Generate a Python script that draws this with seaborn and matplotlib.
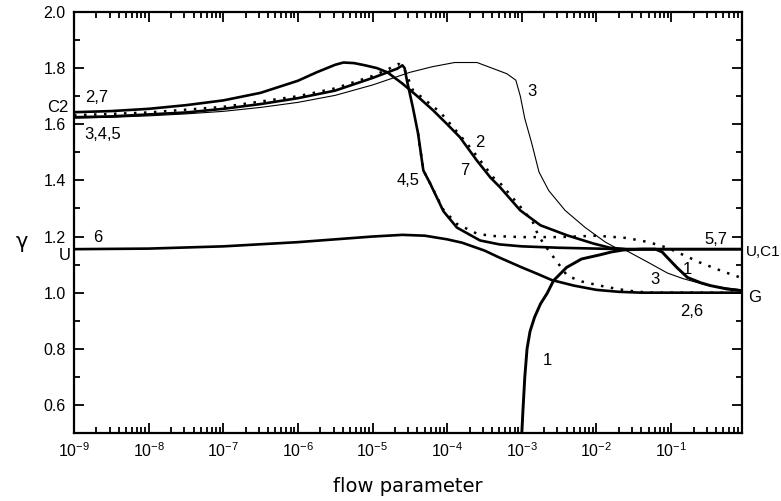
import numpy as np
import pandas as pd
import matplotlib
matplotlib.use("Agg")
import matplotlib.pyplot as plt
import seaborn as sns
from matplotlib.ticker import LogLocator, MultipleLocator, NullFormatter, LogFormatterMathtext, FixedLocator

# ---- data (log10 of flow parameter, gamma) ----
c7_logx = [-9, -8.5, -8, -7.5, -7, -6.5, -6.0, -5.75, -5.5, -5.39, -5.25, -5.1, -4.94, -4.8, -4.6, -4.4, -4.19,
           -4.0, -3.83, -3.6, -3.42, -3.29, -3.02, -2.75, -2.39, -2.04, -1.82, -1.6, -0.05]
c7_y = [1.643, 1.647, 1.655, 1.668, 1.685, 1.712, 1.755, 1.785, 1.812, 1.82, 1.818, 1.81, 1.80, 1.785, 1.745, 1.70, 1.65,
        1.60, 1.554, 1.47, 1.41, 1.375, 1.293, 1.24, 1.204, 1.175, 1.16, 1.155, 1.155]

c45_logx = [-9, -8.5, -8, -7.5, -7, -6.5, -6, -5.5, -5, -4.8, -4.67, -4.6, -4.57, -4.54, -4.46, -4.39, -4.32,
            -4.23, -4.05, -3.87, -3.56, -3.3, -3.0, -2.5, -2.0, -1.6, -0.05]
c45_y = [1.625, 1.628, 1.635, 1.642, 1.655, 1.672, 1.693, 1.72, 1.765, 1.785, 1.798, 1.81, 1.80, 1.757, 1.66,
         1.567, 1.436, 1.39, 1.29, 1.232, 1.186, 1.172, 1.165, 1.16, 1.157, 1.155, 1.155]

c3_logx = [-9, -8.5, -8, -7.5, -7, -6.5, -6, -5.5, -5, -4.5, -4.2, -3.9, -3.6, -3.4, -3.2, -3.08, -3.02, -2.96,
           -2.87, -2.77, -2.64, -2.42, -2.15, -1.88, -1.72, -1.6, -1.28, -1.05, -0.84, -0.5, -0.05]
c3_y = [1.622, 1.625, 1.63, 1.637, 1.646, 1.66, 1.678, 1.703, 1.74, 1.785, 1.805, 1.82, 1.82, 1.80, 1.78,
        1.757, 1.70, 1.62, 1.535, 1.43, 1.364, 1.293, 1.232, 1.18, 1.157, 1.15, 1.104, 1.07, 1.05, 1.025, 1.01]

c6_logx = [-9, -8, -7, -6, -5.5, -5, -4.6, -4.3, -4.0, -3.8, -3.5, -3.3, -3.0, -2.8, -2.6, -2.3, -2.0, -1.7,
           -1.4, -0.05]
c6_y = [1.155, 1.157, 1.165, 1.18, 1.19, 1.2, 1.206, 1.203, 1.19, 1.178, 1.15, 1.125, 1.09, 1.068, 1.045,
        1.025, 1.01, 1.003, 1.0, 1.0]

c1_logx = [-3.0, -2.985, -2.96, -2.93, -2.89, -2.83, -2.75, -2.66, -2.575, -2.4, -2.2, -1.95, -1.8, -1.64,
           -1.4, -1.21, -1.12, -1.05, -0.92, -0.78, -0.6, -0.47, -0.25, -0.05]
c1_y = [0.5, 0.58, 0.70, 0.80, 0.862, 0.912, 0.96, 0.998, 1.043, 1.09, 1.12, 1.135, 1.145, 1.152,
        1.155, 1.155, 1.145, 1.125, 1.089, 1.054, 1.035, 1.025, 1.013, 1.007]

c2_logx = [-9, -8, -7, -6, -5.5, -5, -4.8, -4.65, -4.58, -4.46, -4.09, -3.73, -3.38, -3.29, -3.0, -2.85,
           -2.79, -2.71, -2.59, -2.39, -2.2, -1.95, -1.7, -1.5, -1.3, -0.05]
c2_y = [1.632, 1.642, 1.662, 1.70, 1.728, 1.772, 1.795, 1.815, 1.80, 1.722, 1.642, 1.53, 1.41, 1.39, 1.30,
        1.25, 1.21, 1.175, 1.132, 1.06, 1.04, 1.025, 1.012, 1.005, 1.0, 1.0]

c4_logx = [-4.39, -4.32, -4.23, -4.05, -3.87, -3.6, -3.4, -3.0, -2.5, -2.0, -1.6, -1.3, -1.05, -0.8, -0.61,
           -0.3, -0.05]
c4_y = [1.567, 1.436, 1.39, 1.295, 1.245, 1.21, 1.202, 1.198, 1.198, 1.203, 1.195, 1.18, 1.16, 1.13, 1.107,
        1.075, 1.052]

x_major_exp = [-9, -8, -7, -6, -5, -4, -3, -2, -1]

curves = [
    ("7", c7_logx, c7_y, "-", 1.9),
    ("4,5", c45_logx, c45_y, "-", 1.9),
    ("3", c3_logx, c3_y, "-", 0.8),
    ("6", c6_logx, c6_y, "-", 1.9),
    ("1", c1_logx, c1_y, "-", 2.1),
    ("2", c2_logx, c2_y, (0, (1, 3)), 1.8),
    ("4", c4_logx, c4_y, (0, (1, 3)), 1.8),
]

sns.set_theme(style="ticks")
plt.rcParams['font.family'] = ['Liberation Sans', 'DejaVu Sans']
plt.rcParams['mathtext.fontset'] = 'custom'
plt.rcParams['mathtext.rm'] = 'Liberation Sans'
plt.rcParams['mathtext.it'] = 'Liberation Sans:italic'
plt.rcParams['text.color'] = 'black'

fig = plt.figure(figsize=(7.81, 5.01), dpi=100)
ax = fig.add_axes([74 / 781, 1 - 433 / 501, (742 - 74) / 781, (433 - 12) / 501])

for name, lx, ly, ls, lw in curves:
    df = pd.DataFrame({"x": np.power(10.0, lx), "y": ly})
    sns.lineplot(data=df, x="x", y="y", ax=ax, color="black", linestyle=ls, linewidth=lw,
                 estimator=None, sort=False, legend=False)

ax.set_xscale("log")
ax.set_xlim(1e-9, 10 ** -0.05)
ax.set_ylim(0.5, 2.0)
ax.xaxis.set_major_locator(FixedLocator([10.0 ** e for e in x_major_exp]))
ax.xaxis.set_minor_locator(LogLocator(base=10, subs=np.arange(2, 10), numticks=200))
ax.xaxis.set_major_formatter(LogFormatterMathtext())
ax.xaxis.set_minor_formatter(NullFormatter())
ax.yaxis.set_major_locator(MultipleLocator(0.2))
ax.yaxis.set_minor_locator(MultipleLocator(0.1))
ax.yaxis.set_major_formatter(matplotlib.ticker.FormatStrFormatter("%.1f"))

ax.tick_params(which="both", direction="in", top=True, right=True, colors="black",
               labelsize=11.5, width=1.3)
ax.tick_params(which="major", length=7, pad=6)
ax.tick_params(which="minor", length=4)
for s in ax.spines.values():
    s.set_linewidth(1.6)
    s.set_color("black")

ax.set_xlabel("flow parameter", fontsize=14, family="DejaVu Sans", labelpad=12, color="black")
ax.set_ylabel("")
fig.text(22 / 781, 1 - 242 / 501, "γ", fontsize=15, ha="center", va="center", family="DejaVu Sans",
         color="black")


def px(xp, yp):
    return 10 ** (-9 + (xp - 74) / 74.6), 2.0 - (yp - 12) / 280.0


labels = [
    ("C2", 58, 107, "center", 12), ("2,7", 97, 97, "center", 12), ("3,4,5", 103, 134, "center", 12),
    ("6", 98, 237, "center", 12), ("U", 65, 255, "center", 12),
    ("3", 532, 91, "center", 12), ("2", 480, 142, "center", 12), ("7", 465, 170, "center", 12),
    ("4,5", 408, 180, "center", 12), ("5,7", 716, 239, "center", 12),
    ("U,C1", 746, 251, "left", 11), ("G", 754, 297, "center", 12), ("2,6", 691, 311, "center", 12),
    ("1", 547, 360, "center", 12), ("3", 655, 279, "center", 12), ("1", 687, 269, "center", 12),
]
for t, xp, yp, ha, fs in labels:
    xd, yd = px(xp, yp)
    ax.text(xd, yd, t, ha=ha, va="center", fontsize=fs, color="black", clip_on=False)

fig.savefig("out.png", dpi=100)
